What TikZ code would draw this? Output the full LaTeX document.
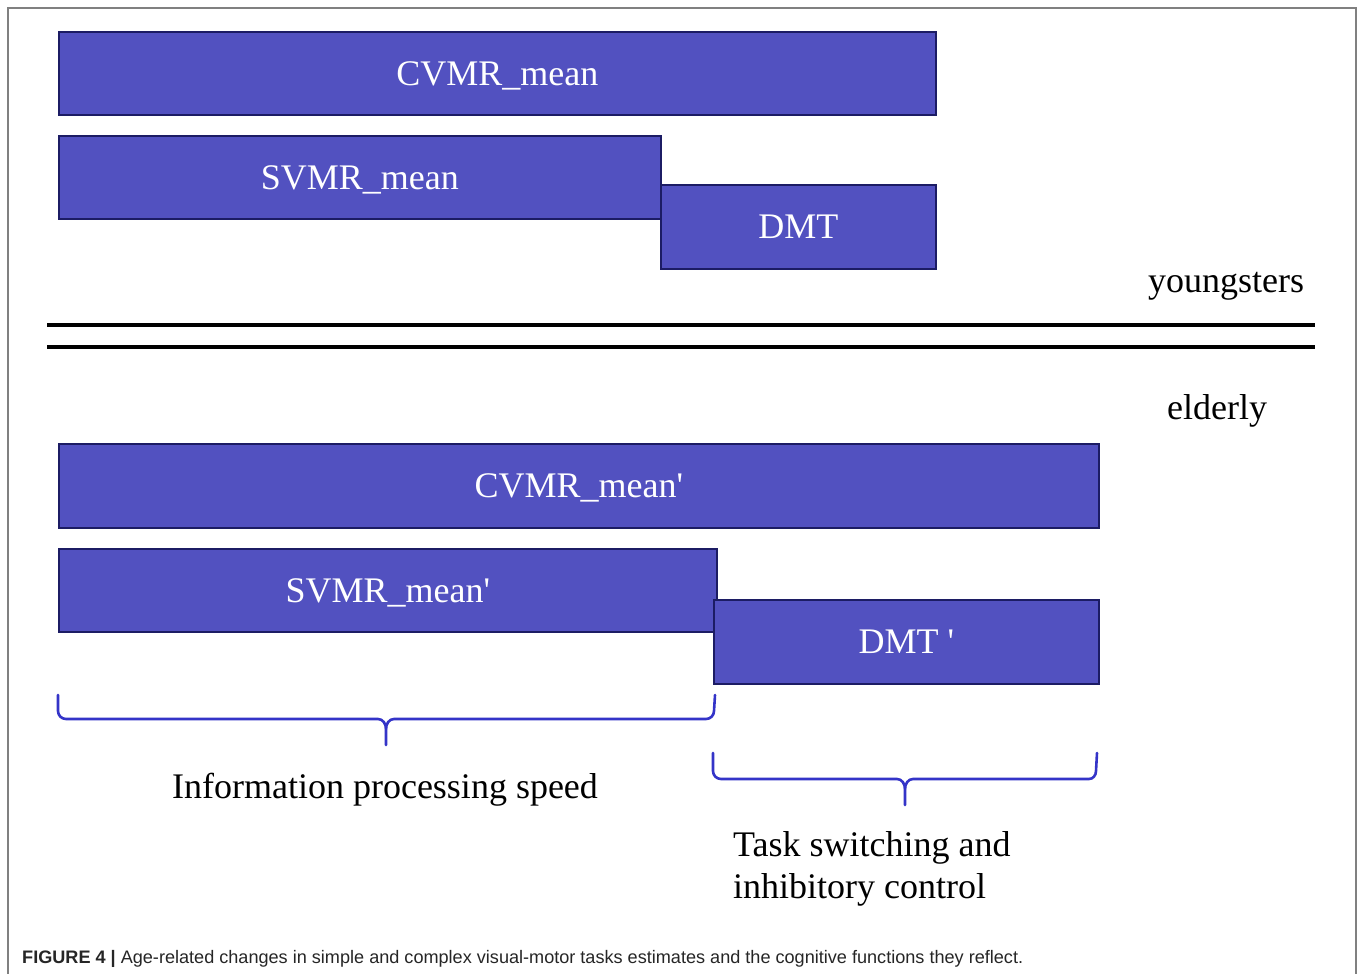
\documentclass[tikz,border=0pt]{standalone}
\usepackage{fontspec}
\setmainfont{Liberation Serif}
\newfontfamily\qfont{Liberation Serif}
\newfontfamily\capfont{Liberation Sans}
\newcommand{\sq}{{\qfont\textquotesingle}}
\definecolor{barfill}{RGB}{82,81,192}
\definecolor{barline}{RGB}{28,28,100}
\definecolor{brcblue}{RGB}{52,52,200}
\definecolor{framegray}{RGB}{128,128,128}
\tikzset{
  bar/.style={draw=barline, fill=barfill, line width=1.6pt, text=white,
    font=\fontsize{36}{40}\selectfont, inner sep=0pt, anchor=north west,
    text height=24pt, text depth=0pt},
  lbl/.style={font=\fontsize{36}{42}\selectfont, inner sep=0pt},
  brc/.style={draw=brcblue, line width=2.6pt, line cap=round, line join=round},
  sep/.style={draw=black, line width=4.8pt}
}
\begin{document}
\begin{tikzpicture}[x=1pt,y=-1pt]
\useasboundingbox (0,0) rectangle (1358,974);
\fill[white] (0,0) rectangle (1358,974);
% frame
\draw[framegray, line width=2pt] (8,974) -- (8,8) -- (1356,8) -- (1356,974);
% youngsters bars
\node[bar, minimum width=877pt, minimum height=83pt] (cvmr) at (58,31) {CVMR\_mean};
\node[bar, minimum width=602pt, minimum height=83pt] (svmr) at (58,135) {SVMR\_mean};
\node[bar, minimum width=275pt, minimum height=84pt] (dmt) at (660,184) {DMT};
\node[lbl, anchor=base] (young) at (1226,292) {youngsters};
% separator
\coordinate (s1a) at (47,325); \coordinate (s1b) at (1315,325);
\coordinate (s2a) at (47,347); \coordinate (s2b) at (1315,347);
\draw[sep] (s1a) -- (s1b);
\draw[sep] (s2a) -- (s2b);
\node[lbl, anchor=base] (old) at (1217,419) {elderly};
% elderly bars
\node[bar, minimum width=1040pt, minimum height=84pt] (cvmr2) at (58,443) {CVMR\_mean\sq};
\node[bar, minimum width=658pt, minimum height=83pt] (svmr2) at (58,548) {SVMR\_mean\sq};
\node[bar, minimum width=385pt, minimum height=84pt] (dmt2) at (713,599) {DMT \sq};
% brace 1
\draw[brc] (58,695) -- (58,711) to[out=-90,in=180] (66,719) -- (378,719) to[out=0,in=90] (386,729) -- (386,745);
\draw[brc] (386,729) to[out=90,in=180] (394,719) -- (706,719) to[out=0,in=-90] (714,711) -- (715,695);
\node[lbl, anchor=base] (ips) at (385,798) {Information processing speed};
% brace 2
\draw[brc] (713,753) -- (713,771) to[out=-90,in=180] (721,779) -- (897,779) to[out=0,in=90] (905,789) -- (905,805);
\draw[brc] (905,789) to[out=90,in=180] (913,779) -- (1089,779) to[out=0,in=-90] (1096,771) -- (1097,753);
\node[lbl, anchor=base west] (tsw) at (733,856) {Task switching and};
\node[lbl, anchor=base west] (inh) at (733,898) {inhibitory control};
% caption
\node[anchor=base west, inner sep=0pt, font=\capfont\fontsize{18.1}{22}\selectfont, text=black!85] (cap) at (22,963)
  {\textbf{FIGURE 4 |} Age-related changes in simple and complex visual-motor tasks estimates and the cognitive functions they reflect.};
\end{tikzpicture}
\end{document}
